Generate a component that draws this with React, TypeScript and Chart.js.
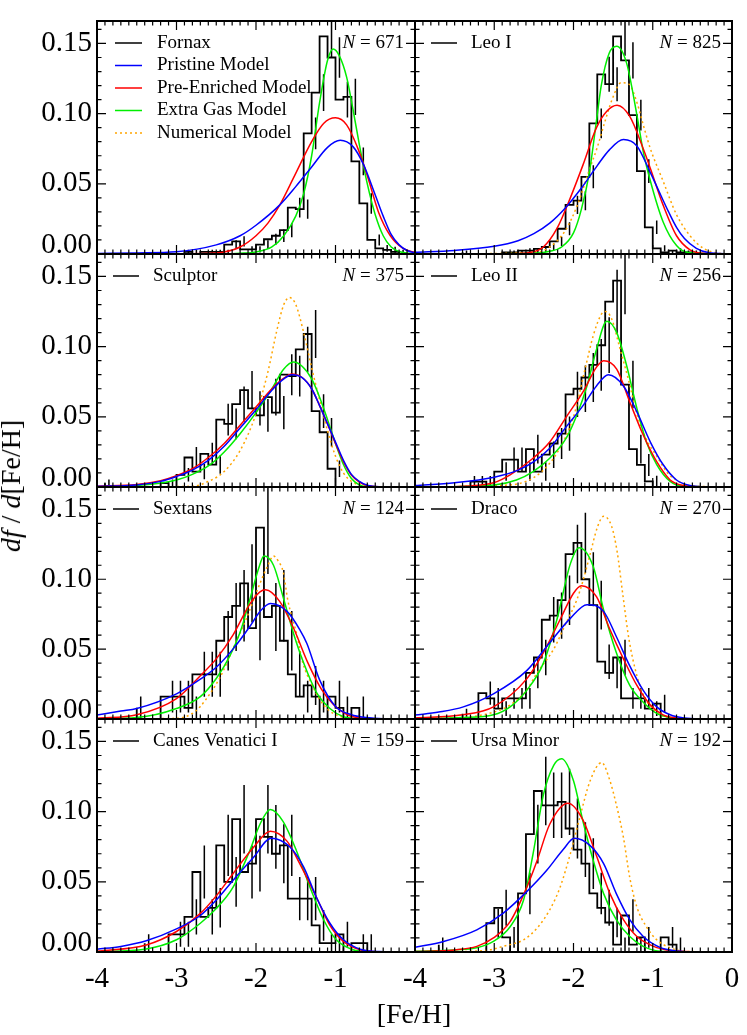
import React, { useEffect, useRef } from "react";
import { Chart, registerables } from "chart.js";
Chart.register(...registerables);

const PAGE_W = 747;
const PAGE_H = 1035;
const colLeft = [97, 415];
const colRight = [415, 732];
const rowTop = [21, 254, 487, 719];
const rowBottom = [254, 487, 719, 952];

const xMin = -4;
const xMax = 0;
const yMin = 0;
const yMax = 0.166;
const binWidth = 0.1;
const xTickValues = [-4, -3, -2, -1, 0];
const xTickLabels = ["-4", "-3", "-2", "-1", "0"];
const yTickValues = [0, 0.05, 0.1, 0.15];
const yTickLabels = ["0.00", "0.05", "0.10", "0.15"];

const modelNames = ["Pristine Model", "Pre-Enriched Model", "Extra Gas Model", "Numerical Model"];
const modelColors = ["#0000ff", "#ff0000", "#00ee00", "#ffa500"];
const FONT = '"Liberation Serif", "Times New Roman", serif';

// ---------- Fornax ----------
const fornaxHistStart = -2.9;
const fornaxHist = [0.0015, 0.0015, 0, 0.0015, 0.0015, 0.0015, 0.0067, 0.009, 0.0033, 0.0033, 0.0067, 0.0105, 0.013, 0.017, 0.033, 0.032, 0.086, 0.115, 0.155, 0.14, 0.11, 0.112, 0.066, 0.036, 0.01, 0.004, 0.003, 0.0015];
const fornaxBlueX = [-4.0, -3.5, -3.0, -2.5, -2.2, -2.0, -1.7, -1.5, -1.3, -1.1, -0.94, -0.78, -0.65, -0.5, -0.4, -0.3, -0.2, -0.1, 0.0];
const fornaxBlueY = [0.0003, 0.0008, 0.0016, 0.0065, 0.013, 0.0205, 0.035, 0.048, 0.062, 0.076, 0.081, 0.0765, 0.064, 0.042, 0.027, 0.014, 0.0065, 0.0025, 0.0008];
const fornaxRedX = [-4.0, -3.0, -2.6, -2.4, -2.2, -2.0, -1.85, -1.7, -1.53, -1.3, -1.15, -1.0, -0.86, -0.71, -0.59, -0.46, -0.31, -0.15, 0.0];
const fornaxRedY = [0, 0.0001, 0.0005, 0.0015, 0.005, 0.013, 0.022, 0.035, 0.054, 0.08, 0.093, 0.097, 0.092, 0.074, 0.054, 0.03, 0.013, 0.004, 0.001];
const fornaxGreenX = [-4.0, -2.4, -2.2, -2.0, -1.8, -1.65, -1.5, -1.4, -1.3, -1.2, -1.1, -1.03, -0.95, -0.86, -0.78, -0.7, -0.6, -0.5, -0.4, -0.3, -0.2, 0.0];
const fornaxGreenY = [0, 0.0002, 0.0006, 0.0015, 0.005, 0.013, 0.027, 0.043, 0.07, 0.108, 0.138, 0.146, 0.141, 0.126, 0.103, 0.078, 0.05, 0.028, 0.013, 0.005, 0.0018, 0];

// ---------- Leo I ----------
const leoIHistStart = -3.4;
const leoIHist = [0.0012, 0, 0, 0, 0, 0, 0.0012, 0.0012, 0.0024, 0.0024, 0.0036, 0.005, 0.009, 0.018, 0.035, 0.038, 0.055, 0.093, 0.128, 0.121, 0.155, 0.138, 0.099, 0.059, 0.019, 0.004, 0.0012, 0.0024, 0.0012, 0.0012];
const leoIBlueX = [-4.0, -3.5, -3.0, -2.7, -2.5, -2.3, -2.1, -1.9, -1.7, -1.55, -1.37, -1.2, -1.03, -0.9, -0.8, -0.7, -0.6, -0.45, -0.3, 0.0];
const leoIBlueY = [0.0012, 0.0025, 0.0055, 0.0095, 0.0145, 0.022, 0.033, 0.047, 0.063, 0.074, 0.0815, 0.077, 0.058, 0.042, 0.03, 0.019, 0.011, 0.004, 0.001, 0];
const leoIRedX = [-4.0, -2.8, -2.55, -2.38, -2.21, -2.04, -1.88, -1.71, -1.58, -1.45, -1.29, -1.12, -1.03, -0.87, -0.7, -0.53, -0.36, 0.0];
const leoIRedY = [0, 0.0002, 0.001, 0.005, 0.018, 0.04, 0.0635, 0.09, 0.1017, 0.106, 0.098, 0.075, 0.061, 0.035, 0.013, 0.003, 0.0005, 0];
const leoIGreenX = [-4.0, -2.5, -2.3, -2.15, -2.0, -1.9, -1.8, -1.71, -1.65, -1.55, -1.455, -1.33, -1.2, -1.12, -1.03, -0.87, -0.7, -0.55, 0.0];
const leoIGreenY = [0, 0.0005, 0.002, 0.005, 0.015, 0.032, 0.058, 0.095, 0.12, 0.143, 0.148, 0.136, 0.099, 0.073, 0.052, 0.023, 0.006, 0.001, 0];
const leoIOrangeX = [-4.0, -2.5, -2.3, -2.1, -1.95, -1.8, -1.7, -1.6, -1.5, -1.4, -1.3, -1.2, -1.1, -1.03, -0.87, -0.7, -0.53, -0.36, -0.2, 0.0];
const leoIOrangeY = [0, 0.001, 0.005, 0.017, 0.035, 0.06, 0.076, 0.095, 0.112, 0.122, 0.121, 0.108, 0.088, 0.075, 0.052, 0.028, 0.013, 0.004, 0.0008, 0];

// ---------- Sculptor ----------
const sculptorHistStart = -3.9;
const sculptorHist = [0.0027, 0, 0, 0, 0, 0, 0, 0, 0.0027, 0, 0.0087, 0.021, 0.011, 0.0236, 0.016, 0.048, 0.045, 0.059, 0.069, 0.056, 0.051, 0.064, 0.053, 0.08, 0.079, 0.098, 0.109, 0.054, 0.039, 0.013];
const sculptorBlueX = [-4.0, -3.5, -3.2, -3.0, -2.8, -2.6, -2.4, -2.2, -2.0, -1.8, -1.65, -1.55, -1.42, -1.3, -1.2, -1.1, -1.0, -0.9, -0.8, -0.7, -0.6, -0.45, 0.0];
const sculptorBlueY = [0.0005, 0.0015, 0.004, 0.0075, 0.012, 0.019, 0.029, 0.042, 0.055, 0.069, 0.077, 0.08, 0.078, 0.07, 0.058, 0.045, 0.032, 0.019, 0.009, 0.004, 0.0012, 0.0002, 0];
const sculptorRedX = [-4.0, -3.5, -3.2, -3.0, -2.8, -2.6, -2.4, -2.2, -2.0, -1.8, -1.65, -1.55, -1.42, -1.3, -1.2, -1.1, -1.0, -0.9, -0.8, -0.7, -0.6, -0.45, 0.0];
const sculptorRedY = [0.0006, 0.0018, 0.0045, 0.008, 0.013, 0.021, 0.031, 0.044, 0.057, 0.07, 0.0775, 0.0805, 0.078, 0.07, 0.058, 0.045, 0.031, 0.018, 0.0085, 0.0035, 0.001, 0.0002, 0];
const sculptorGreenX = [-4.0, -3.5, -3.0, -2.8, -2.6, -2.4, -2.2, -2.0, -1.8, -1.65, -1.53, -1.42, -1.3, -1.2, -1.1, -1.0, -0.9, -0.8, -0.7, -0.6, 0.0];
const sculptorGreenY = [0.0002, 0.001, 0.005, 0.009, 0.015, 0.025, 0.038, 0.053, 0.07, 0.084, 0.089, 0.086, 0.077, 0.064, 0.048, 0.031, 0.016, 0.006, 0.0015, 0.0003, 0];
const sculptorOrangeX = [-4.0, -2.8, -2.6, -2.4, -2.2, -2.0, -1.85, -1.74, -1.65, -1.58, -1.5, -1.4, -1.3, -1.2, -1.1, -1.0, -0.9, -0.8, -0.65, -0.5, 0.0];
const sculptorOrangeY = [0, 0.0005, 0.004, 0.011, 0.026, 0.052, 0.082, 0.111, 0.13, 0.135, 0.13, 0.11, 0.085, 0.062, 0.04, 0.022, 0.01, 0.004, 0.0008, 0, 0];

// ---------- Leo II ----------
const leoIIHistStart = -3.3;
const leoIIHist = [0.0039, 0.0039, 0.0039, 0, 0.011, 0.0195, 0.0195, 0.011, 0.027, 0.011, 0.023, 0.031, 0.038, 0.066, 0.07, 0.078, 0.087, 0.101, 0.132, 0.147, 0.073, 0.027, 0.0157, 0.004];
const leoIIBlueX = [-4.0, -3.5, -3.0, -2.7, -2.5, -2.3, -2.09, -1.88, -1.71, -1.56, -1.37, -1.2, -1.03, -0.87, -0.7, -0.53, -0.35, 0.0];
const leoIIBlueY = [0.001, 0.003, 0.007, 0.012, 0.018, 0.0276, 0.043, 0.058, 0.072, 0.08, 0.072, 0.0535, 0.032, 0.016, 0.005, 0.001, 0.0002, 0];
const leoIIRedX = [-4.0, -3.3, -3.01, -2.8, -2.51, -2.3, -2.09, -1.88, -1.71, -1.62, -1.455, -1.29, -1.12, -0.95, -0.78, -0.61, -0.4, 0.0];
const leoIIRedY = [0, 0.0008, 0.003, 0.0087, 0.0205, 0.032, 0.05, 0.0677, 0.0854, 0.09, 0.084, 0.0606, 0.037, 0.018, 0.005, 0.001, 0.0001, 0];
const leoIIGreenX = [-4.0, -3.0, -2.72, -2.51, -2.3, -2.09, -1.96, -1.83, -1.71, -1.58, -1.455, -1.33, -1.2, -1.08, -0.95, -0.78, -0.61, 0.0];
const leoIIGreenY = [0, 0.0015, 0.005, 0.011, 0.0205, 0.035, 0.051, 0.072, 0.098, 0.118, 0.11, 0.0866, 0.056, 0.032, 0.016, 0.004, 0.0005, 0];
const leoIIOrangeX = [-4.0, -2.8, -2.6, -2.4, -2.2, -2.0, -1.85, -1.75, -1.65, -1.6, -1.52, -1.42, -1.3, -1.2, -1.08, -0.95, -0.8, -0.7, -0.55, 0.0];
const leoIIOrangeY = [0, 0.0015, 0.004, 0.011, 0.025, 0.05, 0.085, 0.108, 0.123, 0.125, 0.12, 0.1, 0.075, 0.052, 0.034, 0.022, 0.009, 0.005, 0.001, 0];

// ---------- Sextans ----------
const sextansHistStart = -3.5;
const sextansHist = [0.008, 0, 0, 0, 0.016, 0.016, 0.016, 0.008, 0.032, 0.032, 0.032, 0.056, 0.073, 0.081, 0.097, 0.065, 0.137, 0.073, 0.081, 0.056, 0.032, 0.016, 0.024, 0.016, 0, 0.016, 0.008, 0, 0.008];
const sextansBlueX = [-4.0, -3.7, -3.5, -3.0, -2.7, -2.5, -2.29, -2.08, -1.95, -1.82, -1.61, -1.45, -1.36, -1.2, -1.0, -0.8, -0.61, -0.4, 0.0];
const sextansBlueY = [0.0028, 0.0057, 0.0075, 0.018, 0.0285, 0.037, 0.05, 0.066, 0.077, 0.0827, 0.077, 0.064, 0.054, 0.028, 0.009, 0.003, 0.001, 0.0002, 0];
const sextansRedX = [-4.0, -3.5, -3.0, -2.7, -2.5, -2.29, -2.08, -1.95, -1.88, -1.7, -1.52, -1.35, -1.18, -1.02, -0.85, -0.64, -0.4, 0.0];
const sextansRedY = [0.0005, 0.003, 0.0146, 0.031, 0.043, 0.06, 0.082, 0.091, 0.0925, 0.084, 0.064, 0.0405, 0.0216, 0.01, 0.003, 0.0005, 0.0001, 0];
const sextansGreenX = [-4.0, -3.5, -3.0, -2.7, -2.5, -2.33, -2.2, -2.08, -1.96, -1.9, -1.78, -1.66, -1.53, -1.4, -1.24, -1.07, -0.9, -0.7, 0.0];
const sextansGreenY = [0.0001, 0.001, 0.0075, 0.016, 0.029, 0.045, 0.062, 0.085, 0.109, 0.1166, 0.11, 0.0875, 0.0616, 0.04, 0.019, 0.0075, 0.0016, 0.0002, 0];
const sextansOrangeX = [-4.0, -3.0, -2.8, -2.7, -2.58, -2.45, -2.285, -2.12, -1.95, -1.85, -1.78, -1.72, -1.657, -1.6, -1.49, -1.41, -1.3, -1.2, -1.1, -0.95, -0.8, 0.0];
const sextansOrangeY = [0, 0.0005, 0.004, 0.009, 0.018, 0.03, 0.051, 0.072, 0.097, 0.11, 0.1166, 0.113, 0.105, 0.085, 0.061, 0.04, 0.025, 0.014, 0.007, 0.002, 0.0004, 0];

// ---------- Draco ----------
const dracoHistStart = -3.4;
const dracoHist = [0.0037, 0, 0, 0.0185, 0.0148, 0.0074, 0.0148, 0.0148, 0.0148, 0.033, 0.044, 0.071, 0.074, 0.085, 0.118, 0.126, 0.1, 0.0815, 0.041, 0.033, 0.044, 0.0148, 0.0148, 0.0148, 0.0074, 0.011];
const dracoBlueX = [-4.0, -3.7, -3.39, -3.01, -2.59, -2.3, -2.04, -1.83, -1.62, -1.46, -1.29, -1.12, -0.95, -0.78, -0.6, -0.4, 0.0];
const dracoBlueY = [0.0028, 0.005, 0.0087, 0.018, 0.0346, 0.0546, 0.072, 0.0818, 0.077, 0.059, 0.038, 0.0205, 0.0087, 0.003, 0.0007, 0.0001, 0];
const dracoRedX = [-4.0, -3.4, -3.01, -2.59, -2.38, -2.17, -2.0, -1.9, -1.71, -1.54, -1.37, -1.2, -1.03, -0.87, -0.7, -0.5, 0.0];
const dracoRedY = [0.0008, 0.003, 0.0087, 0.0287, 0.0475, 0.071, 0.09, 0.0953, 0.0875, 0.064, 0.043, 0.024, 0.01, 0.003, 0.0008, 0.0001, 0];
const dracoGreenX = [-4.0, -3.4, -3.01, -2.8, -2.59, -2.38, -2.21, -2.04, -1.93, -1.75, -1.62, -1.46, -1.29, -1.12, -0.95, -0.78, -0.55, 0.0];
const dracoGreenY = [0.0003, 0.001, 0.003, 0.0087, 0.0205, 0.04, 0.071, 0.111, 0.1226, 0.109, 0.078, 0.0475, 0.024, 0.012, 0.004, 0.001, 0.0001, 0];
const dracoOrangeX = [-4.0, -3.4, -3.0, -2.8, -2.6, -2.46, -2.25, -2.1, -1.96, -1.88, -1.79, -1.7, -1.62, -1.52, -1.45, -1.38, -1.3, -1.2, -1.1, -1.0, -0.9, -0.75, 0.0];
const dracoOrangeY = [0, 0.001, 0.005, 0.01, 0.02, 0.033, 0.05, 0.068, 0.085, 0.099, 0.118, 0.137, 0.145, 0.138, 0.12, 0.09, 0.057, 0.031, 0.015, 0.0075, 0.003, 0.0005, 0];

// ---------- Canes Venatici I ----------
const cvnHistStart = -3.4;
const cvnHist = [0.0063, 0, 0, 0, 0.0126, 0.0126, 0.025, 0.057, 0.025, 0.0315, 0.076, 0.05, 0.0946, 0.057, 0.063, 0.0946, 0.082, 0.07, 0.076, 0.038, 0.038, 0.038, 0.019, 0.0063, 0.0063, 0.0126, 0, 0.0063, 0.0063];
const cvnBlueX = [-4.0, -3.7, -3.38, -3.0, -2.7, -2.5, -2.29, -2.03, -1.81, -1.57, -1.4, -1.24, -1.07, -0.9, -0.69, -0.45, 0.0];
const cvnBlueY = [0.002, 0.004, 0.008, 0.0165, 0.026, 0.037, 0.051, 0.0675, 0.081, 0.0746, 0.0605, 0.039, 0.0205, 0.0087, 0.002, 0.0003, 0];
const cvnRedX = [-4.0, -3.38, -3.0, -2.7, -2.5, -2.29, -2.03, -1.82, -1.61, -1.45, -1.24, -1.07, -0.9, -0.69, -0.45, 0.0];
const cvnRedY = [0.0005, 0.005, 0.0146, 0.0275, 0.04, 0.0558, 0.0746, 0.086, 0.079, 0.063, 0.039, 0.019, 0.0075, 0.0016, 0.0002, 0];
const cvnGreenX = [-4.0, -3.4, -3.0, -2.7, -2.5, -2.29, -2.08, -1.95, -1.82, -1.66, -1.49, -1.32, -1.15, -0.99, -0.78, -0.6, 0.0];
const cvnGreenY = [0.0002, 0.002, 0.0087, 0.0205, 0.031, 0.046, 0.072, 0.091, 0.1015, 0.093, 0.072, 0.046, 0.023, 0.0087, 0.0016, 0.0002, 0];

// ---------- Ursa Minor ----------
const umiHistStart = -3.7;
const umiHist = [0.0052, 0, 0, 0, 0, 0, 0, 0.0205, 0.0315, 0.0104, 0, 0.0417, 0.084, 0.1147, 0.1045, 0.1045, 0.107, 0.088, 0.073, 0.063, 0.0417, 0.0315, 0.021, 0.0052, 0.026, 0.0052, 0.0104, 0, 0, 0.0104, 0.0052];
const umiBlueX = [-4.0, -3.64, -3.22, -2.89, -2.59, -2.34, -2.13, -1.99, -1.79, -1.62, -1.46, -1.29, -1.12, -0.91, -0.7, -0.4, 0.0];
const umiBlueY = [0.0033, 0.0075, 0.0158, 0.0275, 0.043, 0.058, 0.073, 0.081, 0.0758, 0.063, 0.0416, 0.023, 0.011, 0.0033, 0.0008, 0.0001, 0];
const umiRedX = [-4.0, -3.5, -3.22, -3.01, -2.8, -2.59, -2.46, -2.3, -2.07, -1.88, -1.71, -1.54, -1.37, -1.2, -0.99, -0.78, -0.5, 0.0];
const umiRedY = [0.0003, 0.0015, 0.004, 0.01, 0.0216, 0.046, 0.065, 0.091, 0.106, 0.094, 0.0685, 0.0416, 0.023, 0.011, 0.004, 0.001, 0.0001, 0];
const umiGreenX = [-4.0, -3.5, -3.22, -3.01, -2.8, -2.63, -2.51, -2.38, -2.25, -2.15, -2.0, -1.88, -1.75, -1.62, -1.46, -1.29, -1.12, -0.91, -0.6, 0.0];
const umiGreenY = [0.0005, 0.0015, 0.003, 0.0075, 0.018, 0.037, 0.07, 0.112, 0.133, 0.1377, 0.122, 0.093, 0.065, 0.0416, 0.023, 0.011, 0.004, 0.0005, 0.0001, 0];
const umiOrangeX = [-4.0, -3.3, -3.05, -2.89, -2.63, -2.46, -2.3, -2.17, -2.04, -1.92, -1.79, -1.645, -1.54, -1.46, -1.37, -1.29, -1.2, -1.08, -0.95, -0.78, -0.6, 0.0];
const umiOrangeY = [0, 0.0005, 0.0016, 0.004, 0.0087, 0.017, 0.03, 0.046, 0.07, 0.096, 0.122, 0.135, 0.122, 0.105, 0.0816, 0.053, 0.032, 0.018, 0.0087, 0.003, 0.0005, 0];

type Curve = [number[], number[]] | null;
interface PanelDef {
  name: string;
  n: number;
  col: number;
  row: number;
  histStart: number;
  hist: number[];
  curves: Curve[];
  fullLegend: boolean;
}

const panels: PanelDef[] = [
  { name: "Fornax", n: 671, col: 0, row: 0, histStart: fornaxHistStart, hist: fornaxHist, curves: [[fornaxBlueX, fornaxBlueY], [fornaxRedX, fornaxRedY], [fornaxGreenX, fornaxGreenY], null], fullLegend: true },
  { name: "Leo I", n: 825, col: 1, row: 0, histStart: leoIHistStart, hist: leoIHist, curves: [[leoIBlueX, leoIBlueY], [leoIRedX, leoIRedY], [leoIGreenX, leoIGreenY], [leoIOrangeX, leoIOrangeY]], fullLegend: false },
  { name: "Sculptor", n: 375, col: 0, row: 1, histStart: sculptorHistStart, hist: sculptorHist, curves: [[sculptorBlueX, sculptorBlueY], [sculptorRedX, sculptorRedY], [sculptorGreenX, sculptorGreenY], [sculptorOrangeX, sculptorOrangeY]], fullLegend: false },
  { name: "Leo II", n: 256, col: 1, row: 1, histStart: leoIIHistStart, hist: leoIIHist, curves: [[leoIIBlueX, leoIIBlueY], [leoIIRedX, leoIIRedY], [leoIIGreenX, leoIIGreenY], [leoIIOrangeX, leoIIOrangeY]], fullLegend: false },
  { name: "Sextans", n: 124, col: 0, row: 2, histStart: sextansHistStart, hist: sextansHist, curves: [[sextansBlueX, sextansBlueY], [sextansRedX, sextansRedY], [sextansGreenX, sextansGreenY], [sextansOrangeX, sextansOrangeY]], fullLegend: false },
  { name: "Draco", n: 270, col: 1, row: 2, histStart: dracoHistStart, hist: dracoHist, curves: [[dracoBlueX, dracoBlueY], [dracoRedX, dracoRedY], [dracoGreenX, dracoGreenY], [dracoOrangeX, dracoOrangeY]], fullLegend: false },
  { name: "Canes Venatici I", n: 159, col: 0, row: 3, histStart: cvnHistStart, hist: cvnHist, curves: [[cvnBlueX, cvnBlueY], [cvnRedX, cvnRedY], [cvnGreenX, cvnGreenY], null], fullLegend: false },
  { name: "Ursa Minor", n: 192, col: 1, row: 3, histStart: umiHistStart, hist: umiHist, curves: [[umiBlueX, umiBlueY], [umiRedX, umiRedY], [umiGreenX, umiGreenY], [umiOrangeX, umiOrangeY]], fullLegend: false },
];

function Panel({ p, idx }: { p: PanelDef; idx: number }) {
  const ref = useRef<HTMLCanvasElement>(null);
  useEffect(() => {
    const canvas = ref.current;
    if (!canvas) return;
    const left = colLeft[p.col];
    const right = colRight[p.col];
    const top = rowTop[p.row];
    const bottom = rowBottom[p.row];

    const datasets: any[] = [];
    p.curves.forEach((c, i) => {
      if (!c) return;
      datasets.push({
        data: c[0].map((x, j) => ({ x, y: c[1][j] })),
        borderColor: modelColors[i],
        borderWidth: 1.5,
        borderDash: i === 3 ? [2, 3] : [],
        pointRadius: 0,
        cubicInterpolationMode: "monotone",
        fill: false,
      });
    });
    const histPts: any[] = [{ x: p.histStart, y: 0 }];
    p.hist.forEach((v, j) => histPts.push({ x: p.histStart + j * binWidth, y: v }));
    histPts.push({ x: p.histStart + p.hist.length * binWidth, y: 0 });
    datasets.push({
      data: histPts,
      stepped: "after",
      borderColor: "#000",
      borderWidth: 1.8,
      pointRadius: 0,
      fill: false,
    });
    const errPts: any[] = [];
    p.hist.forEach((v, j) => {
      if (v <= 0) return;
      const e = Math.sqrt(v / p.n);
      const xc = p.histStart + (j + 0.5) * binWidth;
      errPts.push({ x: xc, y: v - e }, { x: xc, y: v + e }, { x: xc, y: null });
    });
    datasets.push({
      data: errPts,
      borderColor: "#000",
      borderWidth: 1.5,
      pointRadius: 0,
      spanGaps: false,
      fill: false,
    });

    const panelPlugin = {
      id: "panelDecor" + idx,
      afterDraw(chart: any) {
        const { ctx, chartArea: a, scales } = chart;
        const xs = scales.x;
        const ys = scales.y;
        ctx.save();
        ctx.strokeStyle = "#000";
        ctx.lineWidth = 1.2;
        ctx.setLineDash([]);
        ctx.beginPath();
        for (let k = -39; k <= -1; k++) {
          const px = xs.getPixelForValue(k / 10);
          const len = k % 10 === 0 ? 9 : 4.5;
          ctx.moveTo(px, a.bottom);
          ctx.lineTo(px, a.bottom - len);
          ctx.moveTo(px, a.top);
          ctx.lineTo(px, a.top + len);
        }
        for (let k = 1; k <= 16; k++) {
          const py = ys.getPixelForValue(k / 100);
          const len = k % 5 === 0 ? 9 : 4.5;
          ctx.moveTo(a.left, py);
          ctx.lineTo(a.left + len, py);
          ctx.moveTo(a.right, py);
          ctx.lineTo(a.right - len, py);
        }
        ctx.stroke();
        ctx.lineWidth = 2;
        ctx.strokeRect(a.left, a.top, a.right - a.left, a.bottom - a.top);

        ctx.fillStyle = "#000";
        if (p.col === 0) {
          ctx.font = `29px ${FONT}`;
          ctx.textAlign = "right";
          ctx.textBaseline = "middle";
          yTickValues.forEach((v, i) => {
            const py = ys.getPixelForValue(v) + (v === 0 ? -9 : 0);
            ctx.fillText(yTickLabels[i], a.left - 5, py);
          });
        }
        if (p.row === 3) {
          ctx.font = `29px ${FONT}`;
          ctx.textAlign = "center";
          ctx.textBaseline = "middle";
          xTickValues.forEach((v, i) => {
            if (p.col === 0 && v === xMax) return;
            ctx.fillText(xTickLabels[i], xs.getPixelForValue(v), a.bottom + 27);
          });
        }
        const entries: [string, string, boolean][] = [[p.name, "#000", false]];
        if (p.fullLegend) modelNames.forEach((m, i) => entries.push([m, modelColors[i], i === 3]));
        const l1 = p.fullLegend ? 18 : 16;
        const l2 = p.fullLegend ? 45 : 42;
        const tx = p.fullLegend ? 60 : 56;
        ctx.font = `19px ${FONT}`;
        ctx.textAlign = "left";
        ctx.textBaseline = "middle";
        entries.forEach((en, i) => {
          const y = a.top + 22 + i * 22.5;
          ctx.strokeStyle = en[1];
          ctx.lineWidth = 1.5;
          ctx.setLineDash(en[2] ? [2, 3] : []);
          ctx.beginPath();
          ctx.moveTo(a.left + l1, y);
          ctx.lineTo(a.left + l2, y);
          ctx.stroke();
          ctx.fillText(en[0], a.left + tx, y);
        });
        ctx.setLineDash([]);
        const rest = " = " + p.n;
        ctx.font = `19px ${FONT}`;
        ctx.textAlign = "right";
        const rx = a.right - 11;
        const ny = a.top + 22;
        ctx.fillText(rest, rx, ny);
        const w = ctx.measureText(rest).width;
        ctx.font = `italic 19px ${FONT}`;
        ctx.fillText("N", rx - w, ny);
        ctx.restore();
      },
    };

    const chart = new Chart(canvas, {
      type: "line",
      data: { datasets },
      options: {
        responsive: false,
        animation: false,
        events: [],
        layout: { padding: { left, top, right: PAGE_W - right, bottom: PAGE_H - bottom } },
        scales: {
          x: { type: "linear", min: xMin, max: xMax, display: false },
          y: { type: "linear", min: yMin, max: yMax, display: false },
        },
        plugins: { legend: { display: false }, tooltip: { enabled: false } },
      } as any,
      plugins: [panelPlugin],
    });
    return () => chart.destroy();
  }, [p, idx]);
  return (
    <canvas
      ref={ref}
      width={PAGE_W}
      height={PAGE_H}
      style={{ position: "absolute", left: 0, top: 0, width: PAGE_W, height: PAGE_H }}
    />
  );
}

export default function App() {
  return (
    <div style={{ position: "absolute", left: 0, top: 0, width: PAGE_W, height: PAGE_H, background: "#fff", overflow: "hidden" }}>
      {panels.map((p, i) => (
        <Panel key={p.name} p={p} idx={i} />
      ))}
      <div
        style={{
          position: "absolute",
          left: 414,
          top: 1014,
          transform: "translate(-50%, -50%)",
          font: `28px ${FONT}`,
          lineHeight: 1,
          whiteSpace: "nowrap",
          color: "#000",
        }}
      >
        [Fe/H]
      </div>
      <div
        style={{
          position: "absolute",
          left: 11,
          top: 486,
          transform: "translate(-50%, -50%) rotate(-90deg)",
          font: `28px ${FONT}`,
          lineHeight: 1,
          whiteSpace: "nowrap",
          color: "#000",
        }}
      >
        <i>df</i> / <i>d</i>[Fe/H]
      </div>
    </div>
  );
}
